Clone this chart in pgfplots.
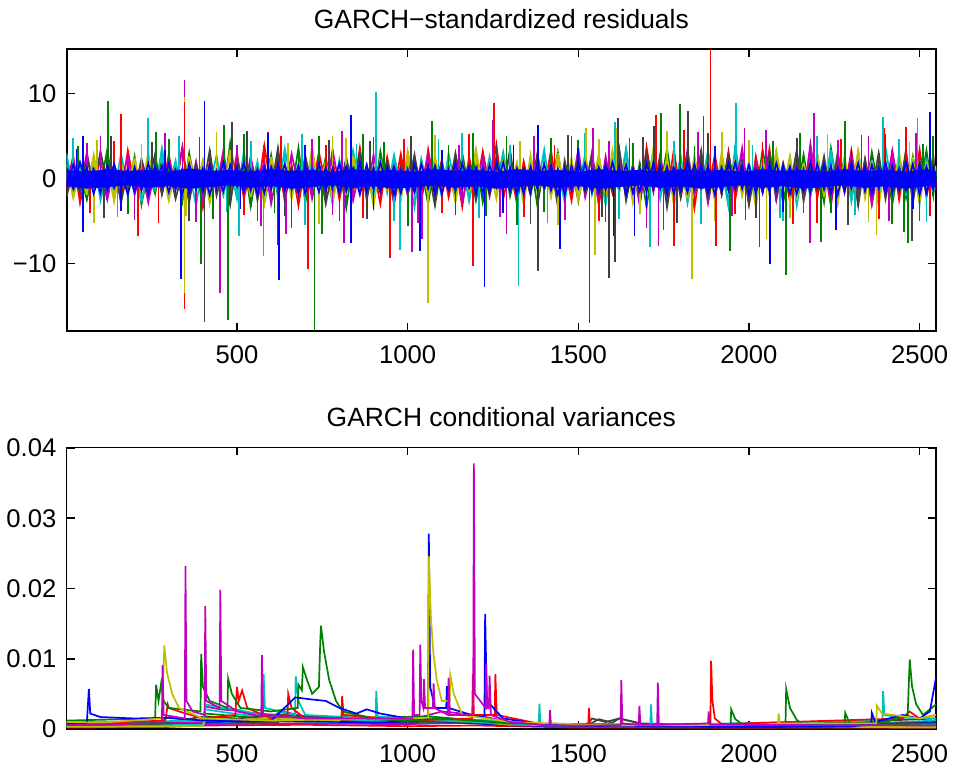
\documentclass[border=0pt]{standalone}
\usepackage{pgfplots}
\pgfplotsset{compat=1.18}
\usepackage{pgfplotstable}
\usepackage{fontspec}
\setmainfont{Liberation Sans}
\definecolor{mblue}{rgb}{0,0,1}
\definecolor{mgreen}{rgb}{0,0.5,0}
\definecolor{mred}{rgb}{1,0,0}
\definecolor{mcyan}{rgb}{0,0.75,0.75}
\definecolor{mmag}{rgb}{0.75,0,0.75}
\definecolor{myel}{rgb}{0.75,0.75,0}
\definecolor{mgray}{rgb}{0.25,0.25,0.25}

\pgfplotstableread{
x g r c m y k b1 b2
0    2.1 -1.4 3.0 -0.8 1.6 -2.2 1.4 -1.1
20  -1.6 2.7 -1.2 2.4 -2.3 0.9 -1.2 1.6
40   0.8 -2.9 1.9 -1.7 0.7 -1.8 1.9 -0.7
60  -2.5 1.1 -0.6 3.1 -1.9 2.6 -0.9 1.3
80   1.7 -0.7 2.4 -1.2 2.8 -1.1 1.1 -1.8
100 -0.9 2.2 -2.6 0.8 -1.2 3.2 -1.7 0.9
120  3.4 -1.8 1.1 -2.5 1.3 -0.8 1.6 -1.4
140 -2.1 1.5 -1.7 1.6 -2.7 1.7 -1.1 1.7
160  1.2 -2.3 2.9 -0.9 1.9 -2.9 0.8 -1.2
180 -1.4 3.3 -0.9 2.7 -0.8 1.2 -1.9 1.1
200  2.6 -1.0 1.6 -1.9 2.4 -1.6 1.3 -1.6
220 -3.1 1.9 -2.8 1.1 -1.5 2.3 -1.4 0.8
240  0.9 -2.6 1.3 -2.8 3.1 -0.7 1.8 -1.9
260 -1.8 0.8 -1.5 1.9 -1.1 2.9 -0.8 1.4
280  2.3 -1.7 3.6 -1.3 1.5 -1.9 1.5 -1.0
300 -1.0 2.8 -1.1 2.3 -2.6 1.4 -1.6 1.8
320  1.5 -1.2 2.1 -0.7 0.9 -2.4 1.0 -1.3
340 -2.7 3.5 -2.3 3.8 -1.8 0.8 -1.8 1.2
360  3.0 -2.0 0.9 -1.6 2.6 -2.8 1.7 -1.7
380 -1.3 1.4 -3.2 2.0 -1.0 1.8 -1.3 0.9
400  1.9 -3.4 1.8 -2.9 2.2 -1.3 1.2 -1.5
420 -2.4 2.1 -0.8 1.4 -2.9 3.3 -1.9 1.6
440  0.7 -0.9 2.7 -1.1 1.4 -2.0 0.9 -1.1
460 -1.9 2.6 -1.9 3.3 -1.6 1.1 -1.5 1.9
480  4.2 -1.5 1.4 -2.2 3.4 -3.1 1.6 -0.8
500 -1.2 3.0 -2.4 0.9 -1.3 2.4 -1.0 1.4
520  2.2 -2.4 3.2 -1.8 2.0 -0.9 1.9 -1.6
540 -3.3 1.3 -1.2 2.6 -2.2 2.0 -1.4 1.0
560  1.4 -1.8 2.0 -1.3 1.1 -2.6 1.1 -1.9
580 -0.8 3.9 -2.9 2.1 -3.0 1.5 -1.7 1.3
600  2.8 -1.1 1.0 -3.0 2.5 -1.4 1.4 -1.2
620 -2.2 2.4 -1.6 1.2 -0.9 3.6 -0.9 1.7
640  1.1 -2.7 3.5 -1.5 1.8 -2.1 1.7 -1.4
660 -1.6 1.6 -0.7 2.9 -2.4 1.3 -1.2 0.9
680  3.6 -3.2 1.7 -0.8 1.2 -1.7 1.5 -1.8
700 -2.9 2.0 -2.1 1.8 -2.0 2.7 -1.8 1.5
720  1.6 -1.3 2.5 -2.4 3.7 -1.0 1.0 -1.0
740 -1.1 3.1 -1.4 1.5 -1.4 1.9 -1.6 1.8
760  2.5 -0.8 1.2 -1.9 2.1 -3.0 1.3 -1.3
780 -2.0 2.3 -3.0 3.4 -2.7 1.0 -1.1 1.2
800  1.3 -2.5 2.2 -1.0 1.0 -1.8 1.8 -1.7
820 -3.5 1.7 -1.3 2.2 -1.9 2.5 -1.5 1.4
840  2.0 -1.6 3.3 -2.6 2.7 -1.2 1.2 -0.9
860 -1.5 3.6 -0.9 1.1 -1.1 3.1 -1.9 1.9
880  1.0 -2.1 1.5 -1.7 1.6 -2.5 1.6 -1.5
900 -2.6 1.2 -2.6 2.8 -3.3 1.4 -1.3 1.1
920  3.2 -3.0 1.9 -1.4 2.3 -1.6 1.9 -1.6
940 -0.9 2.5 -1.7 1.7 -1.5 2.2 -1.0 1.3
960  1.8 -1.4 2.8 -3.1 1.3 -2.7 1.4 -1.9
980 -2.3 2.9 -1.0 1.3 -2.5 1.6 -1.7 1.0
1000 2.7 -1.9 1.3 -2.0 3.2 -1.1 1.1 -1.4
1020 -1.7 1.0 -3.4 2.5 -0.8 2.8 -1.6 1.7
1040 1.2 -2.8 2.3 -1.1 1.7 -2.3 1.7 -1.1
1060 -3.0 3.4 -1.5 3.0 -2.1 1.2 -1.2 1.5
1080 2.1 -1.2 1.6 -2.3 2.6 -3.2 1.5 -1.8
1100 -1.2 2.2 -2.2 1.4 -1.2 1.9 -1.8 1.2
1120 1.6 -2.2 3.0 -1.6 1.1 -1.5 1.0 -1.3
1140 -2.5 1.5 -1.1 2.2 -2.8 3.0 -1.4 1.8
1160 3.0 -3.3 1.8 -2.9 2.0 -1.3 1.8 -1.0
1180 -1.4 2.6 -2.7 1.2 -1.6 2.0 -1.1 1.4
1200 2.4 -1.5 1.4 -1.5 3.5 -2.6 1.3 -1.7
1220 -2.8 3.2 -1.8 2.7 -1.3 1.5 -1.7 1.1
1240 1.3 -1.0 2.6 -2.1 1.5 -1.9 1.6 -1.5
1260 -1.1 4.0 -0.9 1.6 -2.4 2.6 -1.0 1.9
1280 2.9 -2.4 3.1 -1.2 2.2 -1.0 1.9 -1.2
1300 -2.1 1.3 -1.6 3.1 -1.0 3.4 -1.5 1.3
1320 1.1 -2.9 1.7 -2.7 1.9 -2.4 1.2 -1.8
1340 -1.6 2.0 -2.5 1.3 -3.1 1.3 -1.8 1.0
1360 2.2 -1.6 2.4 -1.8 2.8 -2.0 1.4 -1.6
1380 -3.2 2.8 -1.2 2.4 -1.7 2.9 -1.2 1.7
1400 1.5 -1.3 3.4 -1.0 1.2 -1.4 1.7 -1.1
1420 -0.9 3.3 -2.0 2.0 -2.2 1.8 -1.4 1.5
1440 3.1 -2.0 1.1 -2.5 3.0 -3.3 1.1 -1.9
1460 -1.9 1.6 -2.8 1.5 -1.4 2.1 -1.9 1.2
1480 1.7 -2.6 2.1 -1.4 2.4 -1.2 1.5 -1.4
1500 -2.7 2.4 -1.4 3.5 -2.6 2.5 -1.1 1.8
1520 2.0 -1.1 2.9 -2.2 1.6 -1.8 1.8 -1.3
1540 -1.3 3.0 -1.9 1.1 -1.1 3.0 -1.6 1.0
1560 2.6 -3.1 1.5 -2.8 2.9 -2.2 1.3 -1.7
1580 -2.4 1.8 -3.1 2.6 -2.0 1.1 -1.3 1.6
1600 1.4 -1.7 2.3 -1.3 3.3 -1.6 1.9 -1.0
1620 -1.5 2.7 -1.5 3.2 -1.5 3.5 -1.0 1.4
1640 3.3 -2.3 3.6 -1.9 2.1 -2.6 1.6 -1.9
1660 -2.0 1.4 -2.2 1.7 -2.9 1.5 -1.7 1.1
1680 1.8 -2.8 1.2 -3.2 1.4 -2.0 1.2 -1.5
1700 -3.4 3.7 -1.7 2.3 -1.8 3.2 -1.5 1.8
1720 2.3 -1.4 3.1 -1.6 3.6 -1.3 1.8 -1.2
1740 -1.2 2.5 -2.4 2.9 -1.2 2.4 -1.2 1.5
1760 3.5 -1.9 1.6 -2.4 2.5 -3.4 1.4 -1.8
1780 -1.8 3.4 -1.3 1.8 -3.2 1.7 -1.8 1.2
1800 2.1 -2.2 2.7 -1.1 1.7 -2.2 1.1 -1.4
1820 -2.6 1.5 -2.9 3.4 -2.3 2.8 -1.6 1.9
1840 1.6 -3.5 1.9 -2.0 2.7 -1.5 1.7 -1.1
1860 -1.4 2.1 -1.1 2.1 -1.3 3.3 -1.1 1.6
1880 3.0 -1.6 3.3 -2.9 1.9 -2.5 1.5 -1.7
1900 -2.3 2.8 -2.3 1.5 -2.6 1.6 -1.9 1.0
1920 1.9 -1.8 1.4 -1.7 3.1 -1.9 1.3 -1.5
1940 -3.1 3.2 -3.3 2.6 -1.6 2.9 -1.4 1.8
1960 2.5 -2.4 3.9 -1.3 2.3 -1.4 1.9 -1.2
1980 -1.6 1.9 -1.6 3.6 -2.1 2.2 -1.2 1.4
2000 1.2 -3.0 2.0 -2.3 1.5 -3.1 1.6 -1.9
2020 -2.2 2.6 -2.6 1.9 -3.4 1.4 -1.7 1.1
2040 3.4 -1.3 1.5 -1.5 2.2 -1.7 1.2 -1.6
2060 -1.1 3.5 -1.9 2.8 -1.9 3.0 -1.5 1.7
2080 2.2 -2.1 3.0 -2.6 3.3 -2.3 1.8 -1.3
2100 -2.9 1.7 -1.2 1.6 -1.4 1.8 -1.0 1.5
2120 1.5 -2.7 2.5 -1.2 2.6 -1.2 1.4 -1.8
2140 -1.7 2.3 -3.2 3.1 -2.5 3.3 -1.8 1.2
2160 2.8 -1.5 1.7 -2.1 1.8 -2.7 1.1 -1.4
2180 -2.1 3.1 -2.1 4.1 -1.7 1.5 -1.6 1.9
2200 1.4 -2.3 2.8 -1.4 3.0 -1.6 1.7 -1.1
2220 -2.8 1.6 -1.4 2.3 -2.2 2.6 -1.3 1.6
2240 3.6 -3.2 3.4 -2.8 1.6 -2.1 1.5 -1.7
2260 -1.3 2.6 -1.8 1.8 -3.0 3.1 -1.9 1.3
2280 2.4 -1.6 1.9 -1.6 2.4 -1.4 1.3 -1.5
2300 -2.5 3.3 -2.7 2.9 -1.5 2.0 -1.2 1.8
2320 1.7 -2.0 3.2 -1.9 3.2 -3.2 1.8 -1.0
2340 -1.9 2.2 -1.5 2.0 -2.3 2.3 -1.5 1.4
2360 3.1 -2.9 2.2 -3.1 2.1 -1.5 1.6 -1.9
2380 -1.4 1.9 -2.5 1.6 -3.3 3.0 -1.1 1.2
2400 2.0 -1.4 3.7 -1.8 1.9 -2.4 1.9 -1.6
2420 -3.0 3.0 -1.3 3.3 -2.0 1.7 -1.7 1.5
2440 1.8 -2.5 2.6 -1.3 3.1 -1.8 1.2 -1.3
2460 -2.3 2.4 -2.0 2.5 -1.6 3.4 -1.4 1.9
2480 2.6 -1.7 1.8 -2.4 2.5 -2.9 1.7 -1.2
2500 -1.5 3.4 -3.0 1.8 -2.8 2.1 -1.9 1.6
2520 3.3 -2.2 2.4 -1.7 2.0 -1.5 1.4 -1.7
2540 -2.0 1.8 -1.6 2.7 -1.3 2.6 -1.3 1.3
2548 1.2 -1.0 1.1 -1.2 1.5 -1.4 0.8 -0.9
}\noisetab

\pgfplotsset{myaxis/.style={
  scale only axis, width=434.65pt, anchor=south west,
  xmin=1, xmax=2548,
  xtick={500,1000,1500,2000,2500},
  xticklabels={500,1000,1500,2000,2500},
  axis line style={line width=0.8pt},
  tick style={black, line width=0.8pt},
  major tick length=4pt,
  tick label style={font=\fontsize{12.8}{14}\selectfont},
  xticklabel style={inner sep=0pt, anchor=north, yshift=-7.5pt},
  yticklabel style={inner sep=0pt, anchor=east, xshift=-5pt},
  title style={font=\fontsize{13.2}{15}\selectfont, at={(0.5,1)}, anchor=base, yshift=4.6pt, inner sep=0pt},
  scaled y ticks=false,
  every axis plot/.append style={line width=0.85pt},
}}

\begin{document}
\begin{tikzpicture}
\path[use as bounding box] (0,0) rectangle (477pt,384pt);
% ---------------- top panel ----------------
\begin{axis}[myaxis, at={(33.35pt,218.65pt)}, height=140.7pt,
  ymin=-17.9, ymax=15.2, ytick={-10,0,10}, yticklabels={−10,0,10},
  title={GARCH−standardized residuals}]
\addplot[mgreen] table[x=x,y=g]{\noisetab};
\addplot[mred] table[x=x,y=r]{\noisetab};
\addplot[mcyan] table[x=x,y=c]{\noisetab};
\addplot[mmag] table[x=x,y=m]{\noisetab};
\addplot[myel] table[x=x,y=y]{\noisetab};
\addplot[mgray] table[x=x,y=k]{\noisetab};
\addplot[ycomb, mgreen] table[x=x,y=g]{\noisetab};
\addplot[ycomb, mred] table[x=x,y=r]{\noisetab};
\addplot[ycomb, mcyan] table[x=x,y=c]{\noisetab};
\addplot[ycomb, mmag] table[x=x,y=m]{\noisetab};
\addplot[ycomb, myel] table[x=x,y=y]{\noisetab};
\addplot[ycomb, mgray] table[x=x,y=k]{\noisetab};
% moderate spikes
\addplot[ycomb, mgreen] coordinates {(35,3.8)(180,-4.2)(300,4.6)(430,-4.8)(520,5.2)(610,-4.1)(680,3.9)(800,-5.0)(930,4.3)(1000,-5.6)(1120,4.0)(1230,-4.4)(1290,5.0)(1400,-3.9)(1500,4.5)(1580,-5.1)(1660,4.2)(1700,-4.6)(1840,3.8)(1990,-4.9)(2070,4.4)(2240,-4.0)(2330,5.1)(2420,-5.3)(2510,4.1)};
\addplot[ycomb, mred] coordinates {(70,-4.0)(140,4.4)(270,-5.2)(390,4.9)(520,-4.3)(590,5.5)(660,-5.8)(760,4.0)(870,-4.7)(990,4.6)(1100,-4.1)(1180,5.2)(1340,-4.5)(1430,3.9)(1560,-5.0)(1650,4.8)(1750,-6.0)(1810,5.7)(1960,-4.2)(2040,4.3)(2130,-5.4)(2270,4.6)(2380,-4.8)(2460,6.1)(2530,-4.4)};
\addplot[ycomb, mcyan] coordinates {(20,4.8)(150,-4.5)(330,5.0)(470,-3.9)(540,4.4)(700,-5.5)(850,4.1)(960,-5.0)(1090,4.7)(1210,-4.6)(1300,3.9)(1410,-5.2)(1520,5.3)(1620,-4.8)(1780,4.4)(1860,-5.4)(2010,4.0)(2090,-4.7)(2200,5.0)(2310,-4.3)(2440,4.6)(2520,-5.1)};
\addplot[ycomb, mmag] coordinates {(60,4.2)(200,-4.9)(290,5.3)(380,-5.1)(500,4.0)(570,-5.6)(720,4.6)(780,-4.3)(900,4.9)(1030,-5.2)(1150,3.9)(1270,-4.5)(1370,5.0)(1460,-4.9)(1590,4.4)(1700,-5.8)(1850,5.5)(1950,-4.4)(2050,5.7)(2160,-4.1)(2260,4.5)(2410,-5.0)(2490,5.4)};
\addplot[ycomb, myel] coordinates {(80,-5.2)(220,4.1)(350,-4.4)(440,5.5)(560,-4.7)(650,4.2)(740,-5.3)(820,4.8)(950,-4.0)(1080,5.1)(1190,-4.8)(1330,4.4)(1440,-5.5)(1560,4.7)(1680,-4.2)(1760,5.6)(1900,-5.0)(2000,4.5)(2120,-4.6)(2230,5.2)(2350,-5.1)(2470,4.3)};
\addplot[ycomb, mgray] coordinates {(110,-4.6)(250,4.3)(360,-5.0)(530,5.6)(640,-4.4)(770,4.5)(880,-4.8)(1010,5.0)(1140,-4.3)(1260,4.2)(1360,-5.4)(1470,5.1)(1570,-4.5)(1690,4.9)(1790,-5.2)(1880,5.4)(2020,-4.6)(2140,4.8)(2290,-5.5)(2400,5.2)(2500,-4.4)};
% large spikes
\addplot[ycomb, mgreen] coordinates {(122,9.1)(262,5.5)(346,-13.7)(394,-10.0)(462,6.3)(474,-16.6)(560,-5.0)(727,-17.9)(741,5.0)(750,-6.5)(870,5.2)(1071,6.8)(1191,5.3)(1320,-5.5)(1420,4.8)(1742,7.7)(1797,8.8)(1867,7.4)(1945,-8.5)(2031,-8.1)(2108,-11.3)(2150,5.3)(2211,-7.5)(2282,6.8)(2454,-6.3)(2466,-7.6)(2540,5.0)};
\addplot[ycomb, mred] coordinates {(160,7.6)(210,-6.8)(346,-15.3)(450,-5.0)(628,5.0)(707,-10.7)(949,-9.4)(1060,-5.4)(1191,-10.3)(1253,8.9)(1480,5.0)(1728,7.5)(1780,-7.9)(1887,15.2)(1904,-7.9)(2200,-5.2)(2395,6.0)(2500,-5.0)};
\addplot[ycomb, mcyan] coordinates {(239,7.1)(405,-14.3)(505,-6.8)(578,-9.1)(690,5.2)(908,10.2)(978,-8.4)(1160,5.4)(1325,-12.6)(1608,6.6)(1711,-8.1)(1963,8.9)(2100,-5.0)(2393,7.2)(2494,7.1)};
\addplot[ycomb, mmag] coordinates {(100,5.0)(346,11.6)(405,-9.7)(451,-13.5)(643,-6.5)(808,5.6)(814,-7.6)(1012,-8.6)(1042,-7.1)(1250,6.9)(1290,-6.5)(1543,6.0)(1735,-7.9)(1987,6.0)(2179,-7.6)(2191,7.7)(2350,5.0)};
\addplot[ycomb, myel] coordinates {(90,4.5)(346,9.6)(346,-13.5)(405,-7.0)(780,5.0)(1060,-14.7)(1522,6.0)(1549,-9.0)(1614,6.0)(1833,-11.8)(1920,5.5)(2051,-7.1)(2374,-6.6)};
\addplot[ycomb, mred] coordinates {(346,9.0)};
\addplot[ycomb, mgray] coordinates {(131,5.0)(405,-16.9)(485,6.6)(621,-7.8)(890,4.4)(1382,-10.9)(1533,-17.0)(1590,-11.7)(1608,-9.8)(1616,7.1)(1721,6.2)(1821,8.0)(2478,-7.4)};
% blue core
\addplot[fill=mblue, draw=none] coordinates {(0,1.0)(60,0.8)(120,1.1)(180,0.9)(240,1.0)(300,0.8)(360,1.2)(420,0.9)(480,1.0)(540,0.8)(600,1.1)(660,0.9)(720,1.0)(780,0.8)(840,1.1)(900,0.9)(960,1.0)(1020,0.8)(1080,1.1)(1140,0.9)(1200,1.0)(1260,0.8)(1320,1.1)(1380,0.9)(1440,1.0)(1500,0.8)(1560,1.1)(1620,0.9)(1680,1.0)(1740,0.8)(1800,1.1)(1860,0.9)(1920,1.0)(1980,0.8)(2040,1.1)(2100,0.9)(2160,1.0)(2220,0.8)(2280,1.1)(2340,0.9)(2400,1.0)(2460,0.8)(2520,1.1)(2548,0.9)
(2548,-1.0)(2520,-0.9)(2460,-1.2)(2400,-0.9)(2340,-1.1)(2280,-0.8)(2220,-1.0)(2160,-1.2)(2100,-0.9)(2040,-1.1)(1980,-0.8)(1920,-1.0)(1860,-1.2)(1800,-0.9)(1740,-1.1)(1680,-0.8)(1620,-1.0)(1560,-1.2)(1500,-0.9)(1440,-1.1)(1380,-0.8)(1320,-1.0)(1260,-1.2)(1200,-0.9)(1140,-1.1)(1080,-0.8)(1020,-1.0)(960,-1.2)(900,-0.9)(840,-1.1)(780,-0.8)(720,-1.0)(660,-1.2)(600,-0.9)(540,-1.1)(480,-0.8)(420,-1.0)(360,-1.2)(300,-0.9)(240,-1.1)(180,-0.8)(120,-1.0)(60,-1.2)(0,-0.9)} \closedcycle;
\addplot[mblue] table[x=x,y=b1]{\noisetab};
\addplot[mblue] table[x=x,y=b2]{\noisetab};
\addplot[ycomb, mblue] coordinates {(30,3.5)(160,-3.8)(290,3.3)(510,-3.6)(700,3.9)(900,-3.7)(1100,3.4)(1280,-4.0)(1500,3.6)(1700,-3.5)(1900,3.8)(2100,-3.9)(2300,3.4)(2480,-3.6)};
\addplot[ycomb, mblue] coordinates {(49,-6.3)(49,5.0)(335,-11.8)(405,9.1)(590,5.4)(623,-11.9)(834,7.5)(835,-7.6)(1037,-8.5)(1225,-12.8)(1310,4.0)(1382,6.3)(1447,-8.3)(1603,-6.8)(1665,-6.8)(2062,-10.0)(2256,-6.0)(2531,7.8)};
\end{axis}
% ---------------- bottom panel ----------------
\begin{axis}[myaxis, at={(33.35pt,19.5pt)}, height=140.85pt,
  ymin=0, ymax=0.0401, ytick={0,0.01,0.02,0.03,0.04},
  yticklabels={0,0.01,0.02,0.03,0.04},
  title={GARCH conditional variances}]
% baselines
\addplot[mgreen] coordinates {(1,0.0003)(200,0.0004)(280,0.0006)(407,0.0009)(600,0.0007)(623,0.0011)(800,0.0009)(1000,0.0006)(1062,0.001)(1200,0.0008)(1400,0.0004)(1800,0.0002)(2200,0.0002)(2400,0.0005)(2548,0.0007)};
\addplot[mred] coordinates {(1,0.0002)(300,0.0003)(407,0.0005)(700,0.0006)(1000,0.0004)(1200,0.0005)(1500,0.0002)(2548,0.0002)};
\addplot[mcyan] coordinates {(1,0.0006)(250,0.0006)(290,0.001)(407,0.0012)(500,0.0009)(623,0.0013)(700,0.001)(900,0.0008)(1062,0.0011)(1250,0.0009)(1500,0.0004)(2000,0.0003)(2400,0.0009)(2548,0.0012)};
\addplot[mmag] coordinates {(1,0.0004)(300,0.0005)(407,0.0007)(623,0.0008)(1000,0.0007)(1194,0.0009)(1400,0.0004)(2000,0.0002)(2548,0.0004)};
\addplot[myel] coordinates {(1,0.0007)(280,0.0009)(407,0.0011)(700,0.0016)(850,0.0011)(1000,0.0013)(1062,0.0016)(1300,0.0007)(1600,0.0004)(2548,0.0002)};
\addplot[mgray] coordinates {(1,0.0005)(250,0.0005)(300,0.0008)(400,0.0007)(407,0.0014)(500,0.001)(620,0.0009)(623,0.0016)(750,0.0012)(900,0.001)(1000,0.0008)(1060,0.0012)(1200,0.001)(1300,0.0006)(1500,0.0004)(1530,0.0006)(1560,0.0014)(1600,0.0009)(1620,0.0015)(1700,0.0006)(2000,0.0003)(2300,0.0003)(2400,0.0008)(2548,0.001)};
\addplot[mblue] coordinates {(1,0.0005)(400,0.0005)(407,0.001)(623,0.0012)(900,0.0009)(1060,0.0012)(1300,0.0005)(2000,0.0003)(2400,0.0006)(2548,0.0009)};
\addplot[mmag] coordinates {(1,0.0008)(400,0.0009)(407,0.0032)(450,0.0028)(500,0.0026)(560,0.0022)(620,0.002)(623,0.0026)(700,0.0018)(800,0.0014)(1000,0.0012)(1062,0.002)(1100,0.0025)(1200,0.002)(1300,0.001)(1500,0.0005)(2548,0.0004)};
\addplot[mcyan] coordinates {(1,0.0004)(400,0.0006)(407,0.0028)(460,0.0024)(520,0.002)(600,0.0017)(623,0.0024)(700,0.0017)(900,0.0012)(1062,0.0016)(1250,0.0012)(1400,0.0005)(2548,0.0006)};
\addplot[mgreen] coordinates {(1,0.0005)(280,0.0007)(290,0.0016)(400,0.0012)(407,0.0022)(600,0.0014)(623,0.002)(800,0.0015)(1062,0.0018)(1300,0.0008)(2000,0.0003)(2548,0.0008)};
\addplot[myel] coordinates {(1,0.0003)(400,0.0004)(407,0.0012)(623,0.0015)(800,0.0012)(820,0.0022)(850,0.0018)(1062,0.0015)(1300,0.0006)(2548,0.0003)};
% spiky series
\addplot[mgray] coordinates {(1,0.0009)(300,0.001)(407,0.0018)(500,0.0015)(623,0.002)(800,0.0016)(1000,0.0012)(1300,0.0008)(1500,0.0006)(1530,0.0008)(1540,0.0015)(1580,0.001)(1620,0.0015)(1680,0.0008)(2000,0.0004)(2400,0.0012)(2548,0.0015)};
\addplot[mcyan] coordinates {(1,0.0009)(400,0.0012)(410,0.0035)(450,0.003)(500,0.0028)(550,0.0022)(576,0.002)(578,0.0078)(582,0.003)(670,0.002)(672,0.0075)(680,0.004)(700,0.002)(906,0.0015)(908,0.0054)(912,0.0018)(1100,0.0012)(1384,0.0006)(1386,0.0036)(1389,0.0006)(1711,0.0006)(1713,0.0035)(1716,0.0006)(2391,0.0012)(2393,0.0054)(2397,0.002)(2450,0.0016)(2548,0.0015)};
\addplot[mred] coordinates {(1,0.0007)(290,0.0012)(297,0.0035)(300,0.003)(330,0.0025)(400,0.0015)(495,0.002)(500,0.006)(505,0.004)(515,0.0055)(530,0.003)(600,0.0015)(648,0.002)(650,0.005)(660,0.003)(700,0.0015)(806,0.0015)(808,0.0047)(812,0.002)(1000,0.0012)(1189,0.0015)(1191,0.0078)(1194,0.002)(1255,0.002)(1257,0.0078)(1261,0.002)(1400,0.0006)(1529,0.0005)(1531,0.003)(1534,0.0006)(1887,0.0006)(1889,0.0097)(1893,0.004)(1900,0.0015)(1920,0.0007)(2450,0.0015)(2470,0.0025)(2500,0.0015)(2548,0.002)};
\addplot[mgreen] coordinates {(1,0.0012)(260,0.0015)(263,0.0063)(270,0.004)(278,0.0066)(285,0.004)(300,0.003)(393,0.0025)(395,0.0107)(400,0.006)(420,0.004)(472,0.003)(474,0.0072)(485,0.005)(510,0.003)(600,0.0025)(678,0.003)(680,0.0063)(690,0.0055)(693,0.0088)(705,0.007)(720,0.005)(740,0.006)(744,0.0125)(746,0.0147)(755,0.011)(770,0.007)(790,0.004)(810,0.0025)(900,0.0015)(1000,0.0012)(1100,0.0015)(1300,0.0008)(1946,0.0005)(1948,0.0028)(1960,0.0014)(1980,0.0007)(2107,0.0005)(2109,0.0057)(2120,0.003)(2140,0.0013)(2160,0.0006)(2280,0.0005)(2282,0.0023)(2295,0.0008)(2400,0.001)(2465,0.002)(2471,0.0099)(2478,0.006)(2490,0.0035)(2510,0.002)(2548,0.0035)};
\addplot[mblue] coordinates {(1,0.0008)(60,0.0008)(66,0.0057)(70,0.0022)(100,0.0017)(200,0.0015)(300,0.0016)(400,0.0012)(500,0.0012)(600,0.0012)(650,0.0035)(670,0.0045)(720,0.0042)(760,0.004)(800,0.003)(850,0.0022)(880,0.0028)(920,0.0022)(1000,0.0015)(1060,0.0015)(1062,0.0278)(1066,0.006)(1080,0.003)(1113,0.003)(1115,0.0061)(1120,0.003)(1200,0.0018)(1225,0.0018)(1227,0.0164)(1232,0.004)(1280,0.0015)(1400,0.0006)(1600,0.0004)(2000,0.0003)(2300,0.0004)(2358,0.0006)(2360,0.0023)(2370,0.001)(2450,0.002)(2500,0.0015)(2530,0.0025)(2548,0.0073)};
\addplot[myel] coordinates {(1,0.001)(100,0.0009)(280,0.0015)(287,0.0119)(295,0.008)(310,0.005)(330,0.003)(400,0.0015)(600,0.0012)(800,0.0014)(1000,0.0015)(1060,0.0016)(1062,0.0246)(1068,0.016)(1075,0.011)(1085,0.007)(1100,0.004)(1123,0.004)(1125,0.0077)(1135,0.005)(1160,0.002)(1300,0.001)(1600,0.0005)(2085,0.0006)(2087,0.0022)(2090,0.0008)(2373,0.0008)(2375,0.0033)(2390,0.0022)(2500,0.0015)(2548,0.002)};
\addplot[mmag] coordinates {(1,0.0006)(280,0.0008)(282,0.0091)(285,0.002)(347,0.0015)(349,0.0232)(352,0.004)(370,0.0025)(405,0.002)(407,0.0175)(410,0.004)(449,0.003)(451,0.0198)(454,0.004)(500,0.0025)(571,0.0018)(573,0.0105)(576,0.002)(700,0.0015)(1014,0.0015)(1016,0.0113)(1019,0.002)(1035,0.002)(1037,0.012)(1040,0.004)(1046,0.003)(1048,0.0071)(1051,0.003)(1074,0.003)(1076,0.0065)(1079,0.003)(1118,0.002)(1120,0.0073)(1124,0.002)(1192,0.002)(1194,0.0378)(1197,0.005)(1228,0.003)(1230,0.0093)(1233,0.003)(1238,0.003)(1240,0.0076)(1244,0.002)(1300,0.001)(1415,0.0005)(1417,0.0027)(1420,0.0005)(1624,0.0005)(1626,0.007)(1629,0.0008)(1677,0.0006)(1679,0.0033)(1682,0.0006)(1731,0.0006)(1733,0.0066)(1736,0.0006)(1880,0.0008)(1882,0.0025)(1885,0.0006)(2548,0.0005)};
\end{axis}
\end{tikzpicture}
\end{document}
